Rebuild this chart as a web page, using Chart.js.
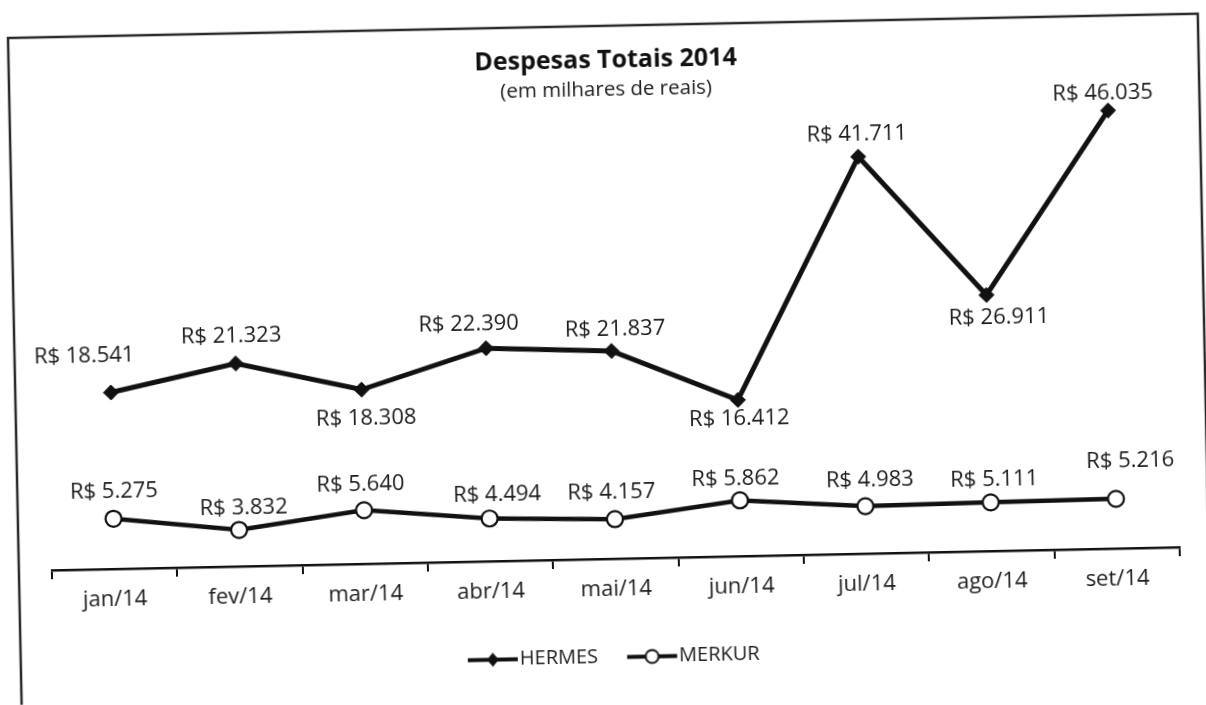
<!DOCTYPE html>
<html lang="pt-BR">
<head>
<meta charset="UTF-8">
<title>Despesas Totais 2014</title>
<script src="https://cdn.jsdelivr.net/npm/chart.js@4.4.1/dist/chart.umd.min.js"></script>
<style>
  html, body { margin: 0; padding: 0; background: #fff; overflow: hidden; }
  /* the source is a slightly crooked scan, so the whole sheet is turned a little */
  #sheet { width: 1206px; height: 705px; transform-origin: 8px 38px; transform: rotate(-1.17deg); }
</style>
</head>
<body>
<div id="sheet"><canvas id="chart" width="1206" height="705"></canvas></div>
<script>
const months = ['jan/14', 'fev/14', 'mar/14', 'abr/14', 'mai/14', 'jun/14', 'jul/14', 'ago/14', 'set/14'];
const hermes = [18541, 21323, 18308, 22390, 21837, 16412, 41711, 26911, 46035];
const merkur = [5275, 3832, 5640, 4494, 4157, 5862, 4983, 5111, 5216];
const yMin = 0;
const yMax = 50000;

// where each value label sits relative to its point (px)
const hermesLabelOffset = [[-26, -37], [-4, -27], [4, 29], [-17, -24], [4, -21], [1, 19], [-1, -22], [12, 23], [-5, -17]];
const merkurLabelOffset = [[1, -27], [5, -22], [-3, -26], [8, -24], [-3, -27], [-4, -21], [5, -26], [4, -23], [15, -38]];

const FONT = '"Open Sans", "Noto Sans", sans-serif';
const INK = '#111';

function brl(v) {
    return 'R$ ' + String(v).replace(/\B(?=(\d{3})+(?!\d))/g, '.');
}

// little line+marker pictures for the legend
function legendIcon(kind) {
    const c = document.createElement('canvas');
    c.width = 52; c.height = 18;
    const g = c.getContext('2d');
    g.strokeStyle = INK;
    g.lineWidth = 4;
    g.beginPath(); g.moveTo(1, 9); g.lineTo(51, 9); g.stroke();
    if (kind === 'diamond') {
        g.fillStyle = INK;
        g.beginPath();
        g.moveTo(26, 2); g.lineTo(32, 9); g.lineTo(26, 16); g.lineTo(20, 9);
        g.closePath(); g.fill();
    } else {
        g.fillStyle = '#fff';
        g.lineWidth = 2;
        g.beginPath(); g.arc(26, 9, 6.5, 0, Math.PI * 2); g.fill(); g.stroke();
    }
    return c;
}
const legendIcons = [legendIcon('diamond'), legendIcon('circle')];

const sheetBorder = {
    id: 'sheetBorder',
    beforeDraw(chart) {
        const ctx = chart.ctx;
        ctx.save();
        ctx.strokeStyle = '#2a2a2a';
        ctx.lineWidth = 2.5;
        ctx.strokeRect(8, 38, 1190, 700);
        ctx.restore();
    }
};

const valueLabels = {
    id: 'valueLabels',
    afterDatasetsDraw(chart) {
        const ctx = chart.ctx;
        const offsets = [hermesLabelOffset, merkurLabelOffset];
        ctx.save();
        ctx.font = '22px ' + FONT;
        ctx.fillStyle = '#1c1c1c';
        ctx.textAlign = 'center';
        ctx.textBaseline = 'middle';
        chart.data.datasets.forEach((ds, i) => {
            chart.getDatasetMeta(i).data.forEach((pt, j) => {
                const o = offsets[i][j];
                ctx.fillText(brl(ds.data[j]), pt.x + o[0], pt.y + o[1]);
            });
        });
        ctx.restore();
    }
};

const ctx = document.getElementById('chart').getContext('2d');
const chart = new Chart(ctx, {
    type: 'line',
    data: {
        labels: months,
        datasets: [{
            label: 'HERMES',
            data: hermes,
            borderColor: INK,
            borderWidth: 5,
            tension: 0,
            pointStyle: 'rectRot',
            pointRadius: 7.5,
            pointBackgroundColor: INK,
            pointBorderColor: INK,
            pointBorderWidth: 1
        }, {
            label: 'MERKUR',
            data: merkur,
            borderColor: INK,
            borderWidth: 4.5,
            tension: 0,
            pointStyle: 'circle',
            pointRadius: 8,
            pointBackgroundColor: '#fff',
            pointBorderColor: INK,
            pointBorderWidth: 2.2
        }]
    },
    options: {
        responsive: false,
        animation: false,
        layout: { padding: { top: 0, left: 41, right: 37, bottom: 15.5 } },
        scales: {
            x: {
                offset: true,
                border: { color: INK, width: 2.5 },
                grid: { offset: true, drawOnChartArea: false, tickLength: 9, color: INK, lineWidth: 2 },
                ticks: { color: '#1c1c1c', font: { family: FONT, size: 22 }, padding: 9 },
                afterFit: s => { s.height = 51.5; }
            },
            y: {
                display: false,
                min: yMin,
                max: yMax
            }
        },
        plugins: {
            title: {
                display: true,
                text: 'Despesas Totais 2014',
                color: INK,
                font: { family: FONT, size: 25, weight: 'bold' },
                padding: { top: 58, bottom: 0 }
            },
            subtitle: {
                display: true,
                text: '(em milhares de reais)',
                color: '#1c1c1c',
                font: { family: FONT, size: 20.5 },
                padding: { top: 2, bottom: -19.4 }
            },
            legend: {
                position: 'bottom',
                labels: {
                    usePointStyle: true,
                    pointStyleWidth: 34,
                    padding: 37,
                    color: '#1c1c1c',
                    font: { family: FONT, size: 20 },
                    generateLabels: c => c.data.datasets.map((ds, i) => ({
                        text: ds.label,
                        pointStyle: legendIcons[i],
                        fillStyle: 'transparent',
                        strokeStyle: 'transparent',
                        lineWidth: 0,
                        fontColor: '#1c1c1c',
                        hidden: false,
                        datasetIndex: i
                    }))
                }
            },
            tooltip: { enabled: false }
        }
    },
    plugins: [sheetBorder, valueLabels]
});
</script>
</body>
</html>
